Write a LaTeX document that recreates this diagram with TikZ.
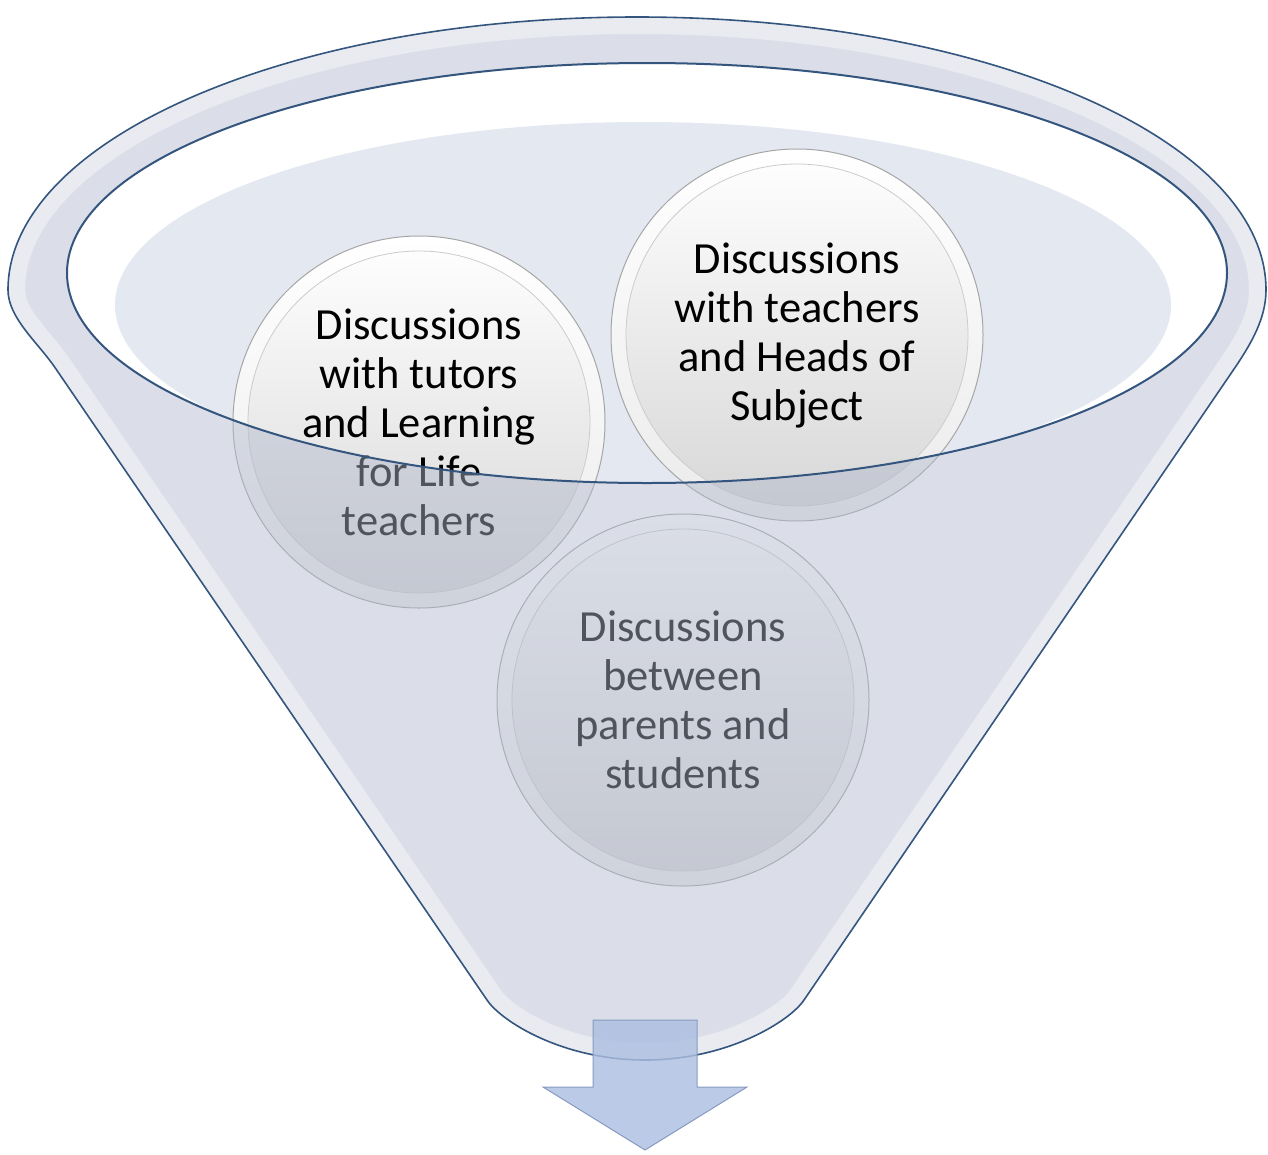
\documentclass[tikz,border=0pt]{standalone}
\usepackage{fontspec}
\setmainfont{Carlito}
\definecolor{rimline}{HTML}{34557E}
\definecolor{overlaycol}{RGB}{176,184,204}
\definecolor{interior}{RGB}{228,232,241}
\definecolor{arrowfill}{RGB}{172,190,224}
\definecolor{arrowedge}{RGB}{135,155,192}
\newcommand\FunnelOutline{(1266,290) arc[start angle=0,end angle=-180,x radius=629,y radius=273]
  .. controls (8,318) and (38.4,343) .. (55.3,368)
  -- (487,1000)
  .. controls (501,1021) and (562,1060) .. (645,1060)
  .. controls (728,1060) and (790,1021) .. (804,1000)
  -- (1234.7,368)
  .. controls (1251.6,343) and (1266,318) .. (1266,290) -- cycle}
\tikzset{
  disc/.style={circle, minimum size=372pt, inner sep=0pt, draw=black!35, line width=1pt,
    top color=white, bottom color=black!8, align=center, text=black,
    font=\fontsize{44.5}{49}\selectfont,
    path picture={\draw[black!20, line width=0.8pt, top color=white, bottom color=black!16]
      (path picture bounding box.center) circle[radius=171pt];}},
  rim/.style={draw=rimline, line width=1.6pt},
}
\begin{document}
\begin{tikzpicture}[x=1pt,y=-1pt]
\useasboundingbox (0,0) rectangle (1268,1154);
% opening of the funnel
\fill[white] (647,273) ellipse[x radius=580, y radius=210];
\begin{scope}
  \clip (647,273) ellipse[x radius=580, y radius=210];
  \fill[interior] (643,305) ellipse[x radius=528, y radius=183];
\end{scope}
% circles
\node[disc] (a) at (419,422) {Discussions\\with tutors\\and Learning\\for Life\\teachers};
\node[disc] (b) at (797,335) {Discussions\\with teachers\\and Heads of\\Subject};
\node[disc] (c) at (683,700) {Discussions\\between\\parents and\\students};
% translucent funnel body
\fill[overlaycol, fill opacity=0.46, even odd rule] \FunnelOutline (647,273) ellipse[x radius=580, y radius=210];
% highlight along the edges
\begin{scope}
  \clip \FunnelOutline;
  \draw[white, opacity=0.4, line width=34pt] \FunnelOutline;
\end{scope}
% outlines
\draw[rim] \FunnelOutline;
\draw[rim, line width=2pt] (647,273) ellipse[x radius=580, y radius=210];
% down arrow
\filldraw[fill=arrowfill, fill opacity=0.82, draw=arrowedge, line width=1pt, line join=miter]
  (593,1020) -- (697,1020) -- (697,1087) -- (747,1087) -- (645,1150) -- (543,1087) -- (593,1087) -- cycle;
\end{tikzpicture}
\end{document}
